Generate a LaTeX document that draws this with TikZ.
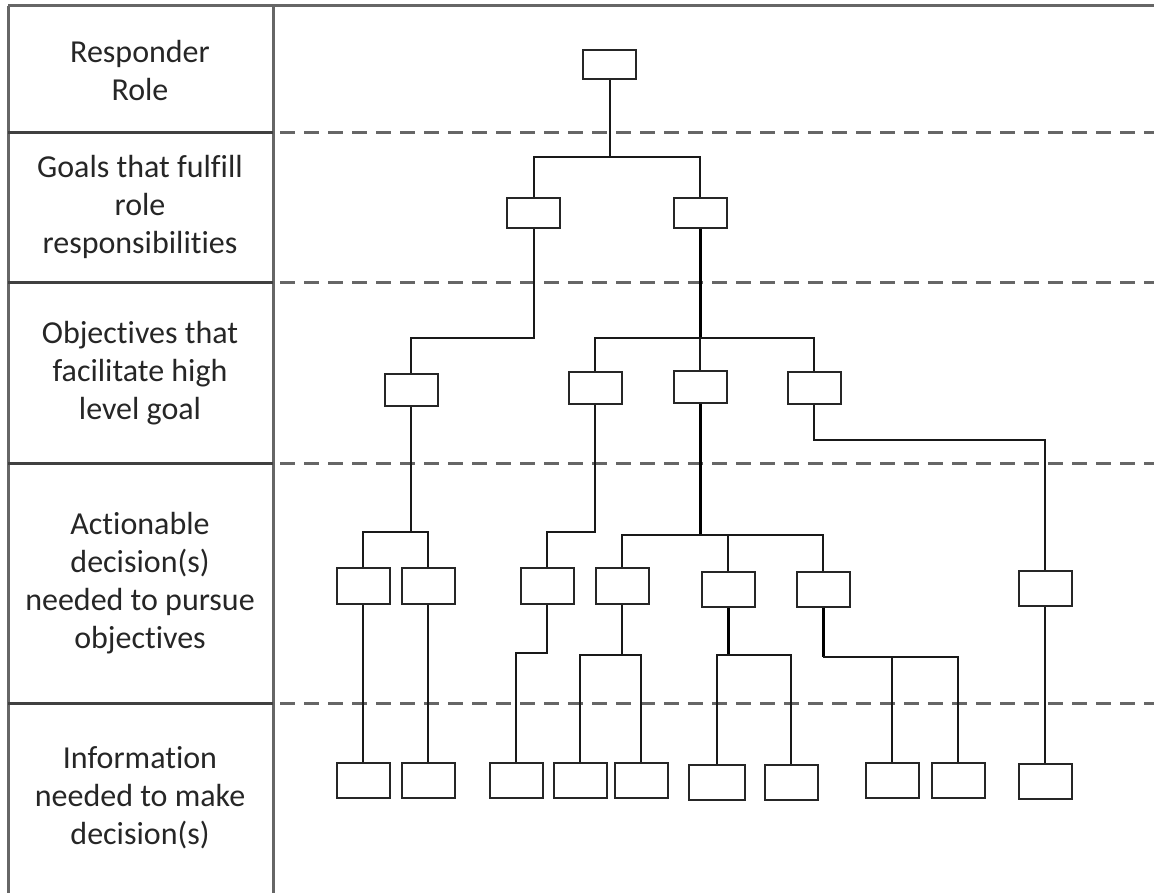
\documentclass[tikz,border=0pt]{standalone}
\usepackage{fontspec}
\setmainfont{Carlito}[Ligatures=NoCommon]
\begin{document}
\begin{tikzpicture}[x=1pt,y=-1pt,
  box/.style={draw=black!85,line width=2pt,minimum width=53pt,minimum height=32pt,inner sep=0pt},
  conn/.style={draw=black!90,line width=2pt},
  heavy/.style={draw=black,line width=3pt},
  rowline/.style={draw=black!75,line width=3pt},
  colline/.style={draw=black!60,line width=3pt},
  sep/.style={draw=black!60,line width=3pt,dash pattern=on 15pt off 9pt},
  lbl/.style={align=center,font=\fontsize{32}{38}\selectfont,text=black!85,inner sep=0pt}]
\useasboundingbox (0,0) rectangle (1154,893);
% frame of the left column
\coordinate (tl) at (8,6);
\coordinate (tr) at (1154,6);
\coordinate (bl) at (8,893);
\coordinate (cl) at (273,6);
\coordinate (cb) at (273,893);
\draw[colline] (tl) -- (tr);
\draw[colline] (tl) -- (bl);
\draw[colline] (cl) -- (cb);
% row separators
\foreach \yy/\nm in {133/s1,283/s2,463/s3,703/s4}{
  \coordinate (\nm a) at (8,\yy);
  \coordinate (\nm b) at (273,\yy);
  \coordinate (\nm c) at (280,\yy);
  \coordinate (\nm d) at (1154,\yy);
  \draw[rowline] (\nm a) -- (\nm b);
  \draw[sep] (\nm c) -- (\nm d);
}
% row labels
\node[lbl] (t1) at (140,71) {Responder\\Role};
\node[lbl] (t2) at (140,207) {Goals that fulfill\\role\\responsibilities};
\node[lbl] (t3) at (140,373) {Objectives that\\facilitate high\\level goal};
\node[lbl] (t4) at (140,583) {Actionable\\decision(s)\\needed to pursue\\objectives};
\node[lbl] (t5) at (140,798) {Information\\needed to make\\decision(s)};
% boxes
\node[box,minimum height=29pt] (r) at (609.5,64.5) {};
\node[box,minimum height=30pt] (g1) at (533.5,213) {};
\node[box,minimum height=30pt] (g2) at (700,213) {};
\node[box] (o1) at (411,390) {};
\node[box] (o2) at (595,388) {};
\node[box] (o3) at (700,386.5) {};
\node[box] (o4) at (814,388) {};
\node[box,minimum height=36pt] (a1) at (363,586) {};
\node[box,minimum height=36pt] (a2) at (428,586) {};
\node[box,minimum height=36pt] (a3) at (547,586) {};
\node[box,minimum height=36pt] (a4) at (622,586) {};
\node[box,minimum height=35pt] (a5) at (728,589) {};
\node[box,minimum height=35pt] (a6) at (823,589) {};
\node[box,minimum height=35pt] (a7) at (1045,588.5) {};
\node[box,minimum height=35pt] (i1) at (363,780.5) {};
\node[box,minimum height=35pt] (i2) at (428,780.5) {};
\node[box,minimum height=35pt] (i3) at (516,780.5) {};
\node[box,minimum height=35pt] (i4) at (580,780.5) {};
\node[box,minimum height=35pt] (i5) at (641,780.5) {};
\node[box,minimum height=35pt,minimum width=56pt] (i6) at (717,782) {};
\node[box,minimum height=35pt] (i7) at (791,782) {};
\node[box,minimum height=35pt] (i8) at (892,780.5) {};
\node[box,minimum height=35pt] (i9) at (958,780.5) {};
\node[box,minimum height=35pt] (i10) at (1045,781) {};
% bus levels
\coordinate (b1) at (0,157);
\coordinate (b2) at (0,338);
\coordinate (b4) at (0,532);
\coordinate (b6) at (0,535);
\coordinate (b7) at (0,440);
\coordinate (b8) at (0,653);
\coordinate (b9) at (0,655);
\coordinate (b11) at (0,657);
% connectors
\draw[conn] (r.south) -- (r.south |- b1) -| (g1.north);
\draw[conn] (r.south |- b1) -| (g2.north);
\draw[conn] (g1.south) |- (g1.south |- b2) -| (o1.north);
\draw[heavy] (g2.south) -- (g2.south |- b2);
\draw[conn] (g2.south |- b2) -| (o2.north);
\draw[conn] (g2.south |- b2) -| (o4.north);
\draw[conn] (g2.south |- b2) -- (o3.north);
\draw[conn] (o1.south) -- (o1.south |- b4) -| (a1.north);
\draw[conn] (o1.south |- b4) -| (a2.north);
\draw[conn] (o2.south) -- (o2.south |- b4) -| (a3.north);
\draw[heavy] (o3.south) -- (o3.south |- b6);
\draw[conn] (o3.south |- b6) -| (a4.north);
\draw[conn] (o3.south |- b6) -| (a5.north);
\draw[conn] (o3.south |- b6) -| (a6.north);
\draw[conn] (o4.south) -- (o4.south |- b7) -| (a7.north);
\draw[conn] (a1.south) -- (i1.north);
\draw[conn] (a2.south) -- (i2.north);
\draw[conn] (a3.south) -- (a3.south |- b8) -| (i3.north);
\draw[conn] (a4.south) -- (a4.south |- b9) -| (i4.north);
\draw[conn] (a4.south |- b9) -| (i5.north);
\draw[heavy] (a5.south) -- (a5.south |- b9);
\draw[conn] (a5.south |- b9) -| (i6.north);
\draw[conn] (a5.south |- b9) -| (i7.north);
\draw[heavy] (a6.south) -- (a6.south |- b11);
\draw[conn] (a6.south |- b11) -| (i8.north);
\draw[conn] (a6.south |- b11) -| (i9.north);
\draw[conn] (a7.south) -- (i10.north);
\end{tikzpicture}
\end{document}
